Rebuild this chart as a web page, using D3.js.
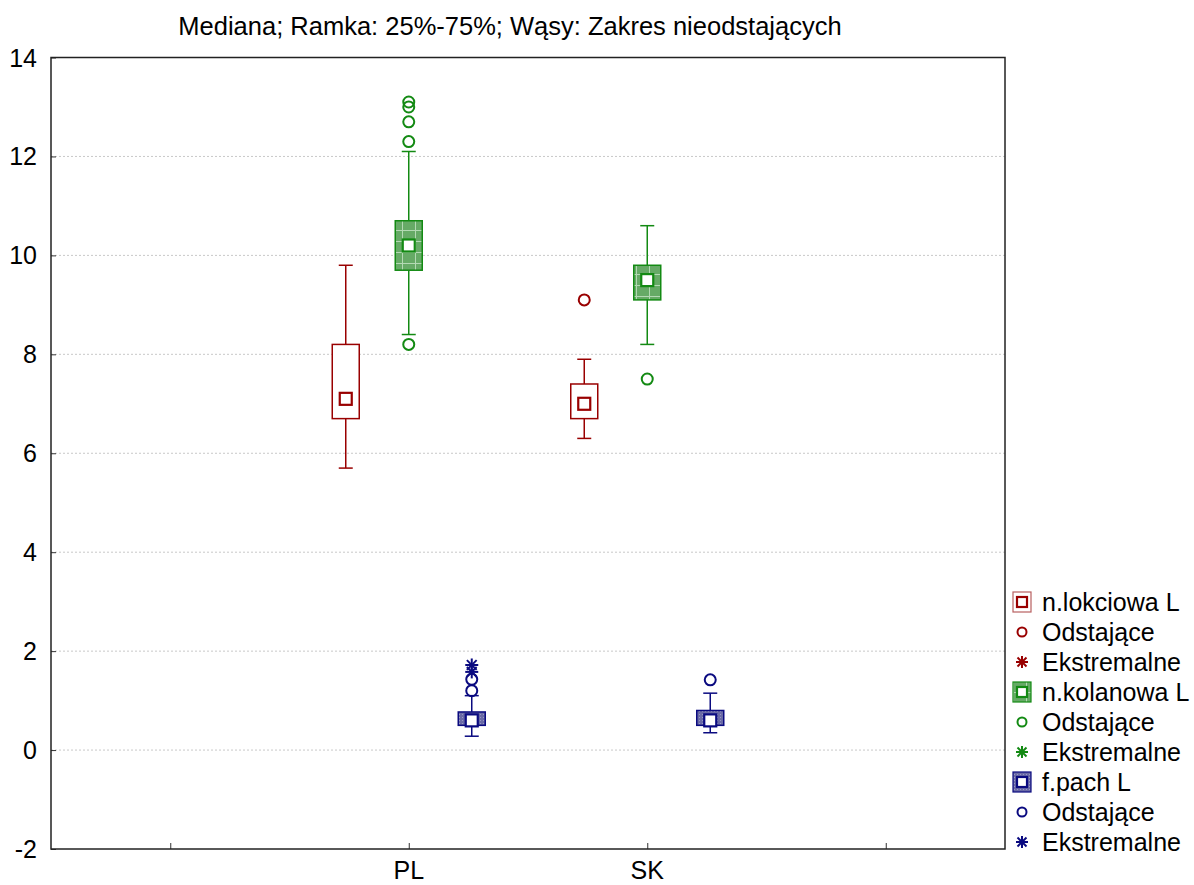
<!DOCTYPE html>
<meta charset="utf-8">
<script src="https://cdn.jsdelivr.net/npm/d3@7"></script>
<style>
body {margin: 0; background: #fff;}
text {font-family: Arial, "Liberation Sans", sans-serif; fill: #000;}
.grid line {stroke: #c8c8c8; stroke-dasharray: 2,2;}
</style>
<div id="vis"></div>
<script>
// categories and series
var groups = ["PL", "SK"];
var slots = ["", "PL", "SK", " "];
var series = ["n.lokciowa L", "n.kolanowa L", "f.pach L"];
var yTicks = [-2, 0, 2, 4, 6, 8, 10, 12, 14];

// values per series, [PL, SK]
var medians  = [[7.1, 7.0],  [10.2, 9.5],  [0.6, 0.6]];
var q1       = [[6.7, 6.7],  [9.7, 9.1],   [0.5, 0.5]];
var q3       = [[8.2, 7.4],  [10.7, 9.8],  [0.77, 0.8]];
var whiskLo  = [[5.7, 6.3],  [8.4, 8.2],   [0.28, 0.35]];
var whiskHi  = [[9.8, 7.9],  [12.1, 10.6], [1.1, 1.15]];
var outliers = [[[], [9.1]], [[8.2, 12.3, 12.7, 13.0, 13.1], [7.5]], [[1.2, 1.43], [1.42]]];
var extremes = [[[], []], [[], []], [[1.58, 1.72], []]];

var colors = ["#990000", "#138a13", "#0a0a80"];
var fills = ["#ffffff", "url(#patG)", "url(#patB)"];
var legendLabels = ["n.lokciowa L", "Odstające", "Ekstremalne",
                    "n.kolanowa L", "Odstające", "Ekstremalne",
                    "f.pach L", "Odstające", "Ekstremalne"];

var width = 1194, height = 885;
var mLeft = 51, mRight = 1005, mTop = 57.5, mBottom = 849;

var svg = d3.select("#vis").append("svg")
    .attr("width", width).attr("height", height);

// fill patterns for the boxes
var defs = svg.append("defs");
var pg = defs.append("pattern").attr("id", "patG").attr("patternUnits", "userSpaceOnUse")
    .attr("width", 13).attr("height", 11);
pg.append("rect").attr("width", 13).attr("height", 11).attr("fill", "#66aa66");
pg.append("line").attr("x1", 0).attr("x2", 13).attr("y1", 10.5).attr("y2", 10.5).attr("stroke", "#b3d9b3");
pg.append("line").attr("x1", 12.5).attr("x2", 12.5).attr("y1", 0).attr("y2", 11).attr("stroke", "#b3d9b3");
var pb = defs.append("pattern").attr("id", "patB").attr("patternUnits", "userSpaceOnUse")
    .attr("width", 3).attr("height", 3);
pb.append("rect").attr("width", 3).attr("height", 3).attr("fill", "#6a6aa6");
pb.append("rect").attr("width", 1).attr("height", 1).attr("fill", "#9898c4");

var y = d3.scaleLinear().domain([-2, 14]).range([mBottom, mTop]);
var x = d3.scalePoint().domain(slots).range([mLeft, mRight]).padding(0.5);
var offsets = [-63, 0, 63];

svg.append("text").attr("x", 510).attr("y", 35).attr("text-anchor", "middle")
    .style("font-size", "25.5px")
    .text("Mediana; Ramka: 25%-75%; Wąsy: Zakres nieodstających");

// grid
svg.append("g").attr("class", "grid").selectAll("line")
    .data(yTicks.filter(function (d) { return d > -2 && d < 14; }))
    .enter().append("line")
    .attr("x1", mLeft).attr("x2", mRight)
    .attr("y1", function (d) { return y(d); }).attr("y2", function (d) { return y(d); });

// axes
var yAxis = svg.append("g").attr("transform", "translate(" + mLeft + ",0)")
    .call(d3.axisRight(y).tickValues(yTicks).tickSize(5).tickFormat(""));
yAxis.select(".domain").remove();
yAxis.selectAll("line").attr("stroke", "#333");
svg.append("g").selectAll("text").data(yTicks).enter().append("text")
    .attr("x", 37).attr("y", function (d) { return y(d) + 9; })
    .attr("text-anchor", "end").style("font-size", "25px")
    .text(function (d) { return d; });

var xAxis = svg.append("g").attr("transform", "translate(0," + mBottom + ")")
    .call(d3.axisTop(x).tickSize(6).tickFormat(""));
xAxis.select(".domain").remove();
xAxis.selectAll("line").attr("stroke", "#333");
svg.append("g").selectAll("text").data(groups).enter().append("text")
    .attr("x", function (d) { return x(d); }).attr("y", 879)
    .attr("text-anchor", "middle").style("font-size", "25px")
    .text(function (d) { return d; });

svg.append("rect").attr("x", mLeft).attr("y", mTop)
    .attr("width", mRight - mLeft).attr("height", mBottom - mTop)
    .attr("fill", "none").attr("stroke", "#222").attr("stroke-width", 1.5);

function asterisk(g, cx, cy, r, color) {
  var pts = [[0, -r, 0, r], [-r, 0, r, 0], [-r * 0.75, -r * 0.75, r * 0.75, r * 0.75], [-r * 0.75, r * 0.75, r * 0.75, -r * 0.75]];
  pts.forEach(function (p) {
    g.append("line").attr("x1", cx + p[0]).attr("y1", cy + p[1])
      .attr("x2", cx + p[2]).attr("y2", cy + p[3])
      .attr("stroke", color).attr("stroke-width", 2);
  });
}

var bw = 27, cap = 14, ms = 12;
series.forEach(function (s, si) {
  var c = colors[si];
  var g = svg.append("g");
  groups.forEach(function (grp, gi) {
    var cx = x(grp) + offsets[si];
    g.append("line").attr("x1", cx).attr("x2", cx)
      .attr("y1", y(whiskLo[si][gi])).attr("y2", y(whiskHi[si][gi]))
      .attr("stroke", c).attr("stroke-width", 1.5);
    [whiskLo[si][gi], whiskHi[si][gi]].forEach(function (v) {
      g.append("line").attr("x1", cx - cap / 2).attr("x2", cx + cap / 2)
        .attr("y1", y(v)).attr("y2", y(v)).attr("stroke", c).attr("stroke-width", 1.5);
    });
    g.append("rect").attr("x", cx - bw / 2).attr("y", y(q3[si][gi]))
      .attr("width", bw).attr("height", y(q1[si][gi]) - y(q3[si][gi]))
      .attr("fill", fills[si]).attr("stroke", c).attr("stroke-width", 1.5);
    g.append("rect").attr("x", cx - ms / 2).attr("y", y(medians[si][gi]) - ms / 2)
      .attr("width", ms).attr("height", ms)
      .attr("fill", "#fff").attr("stroke", c).attr("stroke-width", 2.2);
    outliers[si][gi].forEach(function (v) {
      g.append("circle").attr("cx", cx).attr("cy", y(v)).attr("r", 5.5)
        .attr("fill", "none").attr("stroke", c).attr("stroke-width", 2);
    });
    extremes[si][gi].forEach(function (v) {
      asterisk(g, cx, y(v), 6.5, c);
    });
  });
});

// legend
var lg = svg.append("g");
legendLabels.forEach(function (lab, i) {
  var si = Math.floor(i / 3), kind = i % 3, c = colors[si];
  var cy = 602 + i * 30, cx = 1022;
  if (kind === 0) {
    lg.append("rect").attr("x", cx - 9).attr("y", cy - 10).attr("width", 18).attr("height", 20)
      .attr("fill", fills[si]).attr("stroke", si === 0 ? "#b86060" : c).attr("stroke-width", 1.2);
    lg.append("rect").attr("x", cx - 5).attr("y", cy - 5).attr("width", 10).attr("height", 10)
      .attr("fill", "#fff").attr("stroke", c).attr("stroke-width", 2.2);
  } else if (kind === 1) {
    lg.append("circle").attr("cx", cx).attr("cy", cy).attr("r", 4.5)
      .attr("fill", "none").attr("stroke", c).attr("stroke-width", 2);
  } else {
    asterisk(lg, cx, cy, 6, c);
  }
  lg.append("text").attr("x", 1042).attr("y", cy + 9).style("font-size", "25px").text(lab);
});
</script>
